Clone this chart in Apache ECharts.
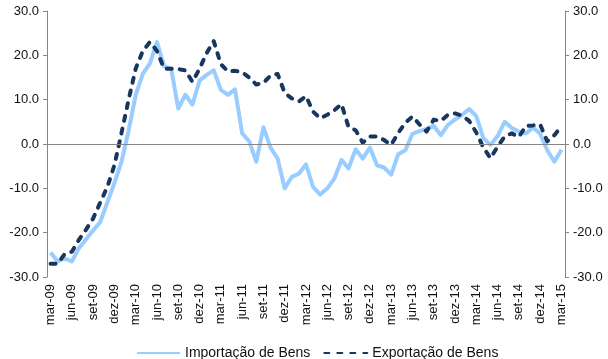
<!DOCTYPE html>
<html>
<head>
<meta charset="utf-8">
<script src="https://cdn.jsdelivr.net/npm/echarts@6/dist/echarts.min.js"></script>
<style>
  html, body { margin: 0; padding: 0; background: #fff; }
  #chart { width: 608px; height: 359px; }
</style>
</head>
<body>
<div id="chart"></div>
<script>
// Monthly periods, mar-09 .. mar-15
const months = [
  'mar-09','abr-09','mai-09','jun-09','jul-09','ago-09','set-09','out-09','nov-09','dez-09','jan-10','fev-10',
  'mar-10','abr-10','mai-10','jun-10','jul-10','ago-10','set-10','out-10','nov-10','dez-10','jan-11','fev-11',
  'mar-11','abr-11','mai-11','jun-11','jul-11','ago-11','set-11','out-11','nov-11','dez-11','jan-12','fev-12',
  'mar-12','abr-12','mai-12','jun-12','jul-12','ago-12','set-12','out-12','nov-12','dez-12','jan-13','fev-13',
  'mar-13','abr-13','mai-13','jun-13','jul-13','ago-13','set-13','out-13','nov-13','dez-13','jan-14','fev-14',
  'mar-14','abr-14','mai-14','jun-14','jul-14','ago-14','set-14','out-14','nov-14','dez-14','jan-15','fev-15',
  'mar-15'
];

// Importação de Bens (%)
const importacao = [
  -24.5, -26.5, -25.8, -26.5, -23.5, -21.5, -19.5, -17.6, -13.2, -8.8, -4.0, 3.0,
  11.0, 15.8, 18.2, 23.0, 17.5, 17.0, 8.0, 11.1, 8.9, 14.3, 15.6, 16.6,
  12.2, 11.1, 12.3, 2.4, 0.6, -4.0, 3.8, -0.8, -3.3, -10.0, -7.4, -6.7,
  -4.6, -9.7, -11.4, -10.0, -7.8, -3.6, -5.5, -1.2, -3.3, -0.8, -4.8, -5.3,
  -6.9, -2.3, -1.4, 2.3, 2.9, 3.4, 4.1, 2.0, 4.3, 5.5, 6.6, 7.9,
  6.3, 1.3, -0.2, 1.8, 5.0, 3.6, 2.8, 2.4, 3.7, 2.3, -1.4, -4.0,
  -1.3
];

// Exportação de Bens (%)
const exportacao = [
  -27.0, -27.0, -24.8, -24.3, -21.6, -19.3, -16.8, -13.2, -9.7, -4.8, 2.5, 10.0,
  17.0, 21.0, 23.0, 21.0, 17.0, 17.0, 16.9, 16.6, 14.0, 17.0, 20.5, 23.2,
  18.0, 16.4, 16.5, 16.2, 15.0, 13.4, 13.8, 15.4, 15.8, 11.5, 10.3, 9.6,
  10.8, 7.3, 5.8, 6.6, 7.6, 9.0, 3.8, 3.1, 0.3, 1.7, 1.7, 0.9,
  -0.2, 2.5, 4.8, 6.2, 4.4, 2.8, 5.5, 5.2, 6.6, 6.9, 6.4, 5.2,
  2.6, -0.8, -3.2, -0.6, 1.7, 2.4, 1.6, 4.1, 4.2, 4.4, 0.6, 2.0,
  4.0
];

const yTicks = { min: -30, max: 30, step: 10 };

const FONT = 'Liberation Sans, Arial, sans-serif';
const AXIS_GRAY = '#868686';
const TEXT = '#111111';

function valueAxis(position) {
  return {
    type: 'value',
    position: position,
    min: yTicks.min,
    max: yTicks.max,
    interval: yTicks.step,
    axisLine: { show: true, lineStyle: { color: AXIS_GRAY, width: 1 } },
    axisTick: { show: true, length: 4, lineStyle: { color: AXIS_GRAY } },
    splitLine: { show: false },
    axisLabel: {
      color: TEXT,
      fontFamily: FONT,
      fontSize: 13,
      margin: 8,
      formatter: v => v.toFixed(1)
    }
  };
}

const chart = echarts.init(document.getElementById('chart'), null, { renderer: 'canvas' });

chart.setOption({
  animation: false,
  backgroundColor: '#ffffff',
  grid: { left: 47, right: 43, top: 11, bottom: 82, containLabel: false },
  xAxis: {
    type: 'category',
    data: months,
    boundaryGap: true,
    axisLine: { show: false, onZero: false },
    axisTick: { show: false },
    axisLabel: {
      interval: 2,
      rotate: 90,
      margin: 7,
      color: TEXT,
      fontFamily: FONT,
      fontSize: 13
    }
  },
  yAxis: [valueAxis('left'), valueAxis('right')],
  legend: {
    top: 341,
    left: 131,
    itemWidth: 43,
    itemHeight: 14,
    itemGap: 13,
    itemStyle: { opacity: 0 },
    textStyle: { color: TEXT, fontFamily: FONT, fontSize: 14 },
    data: ['Importação de Bens', 'Exportação de Bens']
  },
  series: [
    {
      name: 'Importação de Bens',
      type: 'line',
      data: importacao,
      symbol: 'none',
      lineStyle: { color: '#99CCFF', width: 4, join: 'round' },
      itemStyle: { color: '#99CCFF' },
      markLine: {
        silent: true,
        symbol: 'none',
        label: { show: false },
        lineStyle: { color: AXIS_GRAY, width: 1, type: 'solid' },
        data: [{ yAxis: 0 }]
      },
      z: 2
    },
    {
      name: 'Exportação de Bens',
      type: 'line',
      data: exportacao,
      symbol: 'none',
      lineStyle: { color: '#17375E', width: 4, type: [5, 8], cap: 'round', join: 'round' },
      itemStyle: { color: '#17375E' },
      z: 3
    }
  ]
});
</script>
</body>
</html>
